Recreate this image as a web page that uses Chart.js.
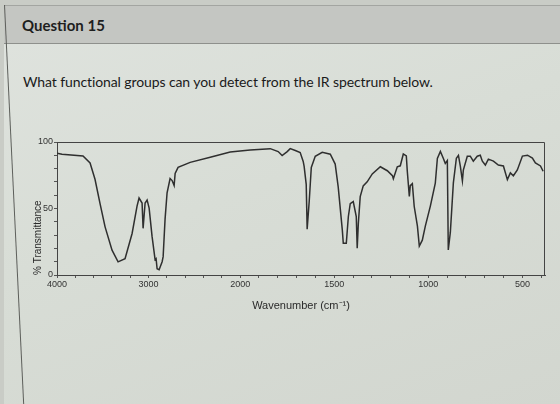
<!DOCTYPE html>
<html>
<head>
<meta charset="utf-8">
<script src="https://cdn.jsdelivr.net/npm/chart.js"></script>
<style>
  html, body { margin: 0; padding: 0; }
  body { width: 560px; height: 404px; overflow: hidden; position: relative; background: #c9ccc6; font-family: Lato, "Open Sans", sans-serif; }
  #page { position: absolute; left: 4px; top: 5px; width: 560px; height: 404px; background: linear-gradient(160deg, #dfe3de 0%, #d8ddd6 45%, #d2d6cf 100%); }
  #header { position: absolute; left: 4px; top: 5px; width: 560px; height: 37px; background: #c4c6c2; border-top: 1px solid #a3a5a1; border-bottom: 1px solid #8e908c; }
  #edge { position: absolute; left: 4px; top: 5px; width: 1px; height: 420px; background: #5d5f5b; transform-origin: top left; transform: rotate(-2.75deg); }
  #qtitle { position: absolute; left: 22px; top: 16px; font-size: 15px; font-weight: 700; color: #1e1e1e; }
  #qtext { position: absolute; left: 23px; top: 73px; font-size: 14px; color: #1a1a1a; letter-spacing: -0.1px; }
  #wrap { position: absolute; left: 0; top: 130px; width: 560px; height: 190px; }
</style>
</head>
<body>
<div id="page"></div>
<div id="header"></div>
<div id="edge"></div>
<div id="qtitle">Question 15</div>
<div id="qtext">What functional groups can you detect from the IR spectrum below.</div>
<div id="wrap"><canvas id="ir" width="560" height="190"></canvas></div>
<script>
// spectrum: wavenumber (cm-1) and % transmittance
const wavenumbers = [4000, 3945, 3716, 3639, 3585, 3530, 3475, 3399, 3333, 3257, 3180, 3126, 3104, 3071, 3060, 3038, 3016, 2994, 2962, 2929,
  2918, 2907, 2885, 2852, 2841, 2820, 2798, 2765, 2743, 2721, 2710, 2678, 2546, 2327, 2109,
  1947, 1840, 1798, 1777, 1750, 1734, 1707, 1681, 1665, 1660, 1649, 1644, 1633, 1622, 1601, 1564, 1521, 1495, 1479, 1457, 1452, 1436, 1425, 1415, 1399, 1383, 1378,
  1372, 1362, 1346, 1325, 1298, 1255, 1218, 1191, 1186, 1165, 1149, 1133, 1117, 1112, 1101, 1096, 1085, 1075, 1058, 1048, 1032, 1016, 989, 963, 952, 936, 920, 910, 899, 894, 883, 867, 851, 840,
  830, 819, 814, 793, 777, 761, 740, 724, 713, 697, 681, 654, 628, 601, 580, 564, 548, 527, 500, 473, 447, 431, 404, 390];
const transmittance = [91.6, 90.8, 89.5, 84.2, 72, 53.7, 36.2, 18.7, 9.9, 12.2, 31.2, 51.8, 57.9, 54.1, 35.1, 54.1, 56.4, 50.3, 29, 11.5,
  12.3, 4.7, 4, 10, 13.8, 42, 61.8, 72.5, 71, 67.2, 76.3, 80.9, 84.7, 88.6, 92.4,
  94, 95, 92.8, 89.8, 92.8, 95, 93.6, 92.1, 85.4, 81.6, 68.2, 34.5, 55.5, 80.9, 89.2, 92.3, 90.8, 83.4, 66.3, 33.5, 23.8, 23.8, 44, 53.7, 55.2, 44, 20.1,
  38.7, 58.9, 67, 70, 76, 81.4, 78.4, 74.7, 72.4, 81.4, 82.1, 91, 89.5, 78.4, 59, 67.2, 68.7, 51.5, 36.7, 21.8, 26.2, 36.7, 52, 69, 87.6, 92.9, 87.6, 83.9, 86.1, 18.8, 32.2, 69.3, 87.8, 90,
  81.9, 70.8, 78.9, 89.3, 89.3, 85.6, 89.3, 90, 85.6, 82.7, 87.1, 85.6, 82.7, 82, 71.7, 76.8, 74.6, 79, 89.4, 90.1, 87.9, 84.3, 82, 78];

const xMajorTicks = [4000, 3000, 2000, 1500, 1000, 500];
const xMinorTicks = [3800, 3600, 3400, 3200, 2800, 2600, 2400, 2200, 1900, 1800, 1700, 1600, 1400, 1300, 1200, 1100, 900, 800, 700, 600, 400];
const yLabelTicks = [0, 50, 100];

// IR chart axis: scale changes at 2000 cm-1 (half the density above it)
function toU(w) {
  return w >= 2000 ? (4000 - w) / 2000 * 183 : 183 + (2000 - w) / 1000 * 188;
}

const frame = {
  id: 'frame',
  afterDraw(chart) {
    const a = chart.chartArea, g = chart.ctx;
    g.save();
    g.strokeStyle = '#444';
    g.lineWidth = 1;
    g.beginPath();
    g.moveTo(a.left, a.top + 0.5); g.lineTo(a.right - 0.5, a.top + 0.5); g.lineTo(a.right - 0.5, a.bottom);
    g.stroke();
    g.restore();
  }
};

new Chart(document.getElementById('ir'), {
  type: 'line',
  data: {
    datasets: [{
      data: wavenumbers.map((w, i) => ({ x: toU(w), y: transmittance[i] })),
      borderColor: '#2f2f2f',
      borderWidth: 1.5,
      pointRadius: 0,
      tension: 0,
      fill: false
    }]
  },
  options: {
    responsive: false,
    animation: false,
    events: [],
    layout: { padding: { left: 30, right: 15, top: 12, bottom: 3 } },
    plugins: { legend: { display: false }, tooltip: { enabled: false } },
    scales: {
      x: {
        type: 'linear',
        min: 0,
        max: toU(380),
        afterBuildTicks: (s) => { s.ticks = xMajorTicks.concat(xMinorTicks).map((w) => ({ value: toU(w) })); },
        afterFit: (s) => { s.height = 42; },
        ticks: {
          autoSkip: false,
          maxRotation: 0,
          padding: 1,
          color: '#333',
          font: { family: 'Liberation Sans', size: 9 },
          callback: (v) => {
            const w = xMajorTicks.find((m) => Math.abs(toU(m) - v) < 0.01);
            return w === undefined ? '' : String(w);
          }
        },
        grid: { drawOnChartArea: false, tickLength: 3, color: '#555' },
        border: { color: '#444' },
        title: { display: true, text: 'Wavenumber (cm\u207B\u00B9)', color: '#2a2a2a', font: { family: 'Liberation Sans', size: 11 }, padding: { top: 2, bottom: 4 } }
      },
      y: {
        min: 0,
        max: 100,
        afterBuildTicks: (s) => { s.ticks = [0, 10, 20, 30, 40, 50, 60, 70, 80, 90, 100].map((v) => ({ value: v })); },
        afterFit: (s) => { s.width = 27; },
        ticks: {
          autoSkip: false,
          padding: 1,
          color: '#333',
          font: { family: 'Liberation Sans', size: 9 },
          callback: (v) => (yLabelTicks.includes(v) ? String(v) : '')
        },
        grid: { drawOnChartArea: false, tickLength: 3, color: '#555' },
        border: { color: '#444' },
        title: { display: true, text: '% Transmittance', align: 'start', color: '#2a2a2a', font: { family: 'Liberation Sans', size: 10 }, padding: 2 }
      }
    }
  },
  plugins: [frame]
});
</script>
</body>
</html>
